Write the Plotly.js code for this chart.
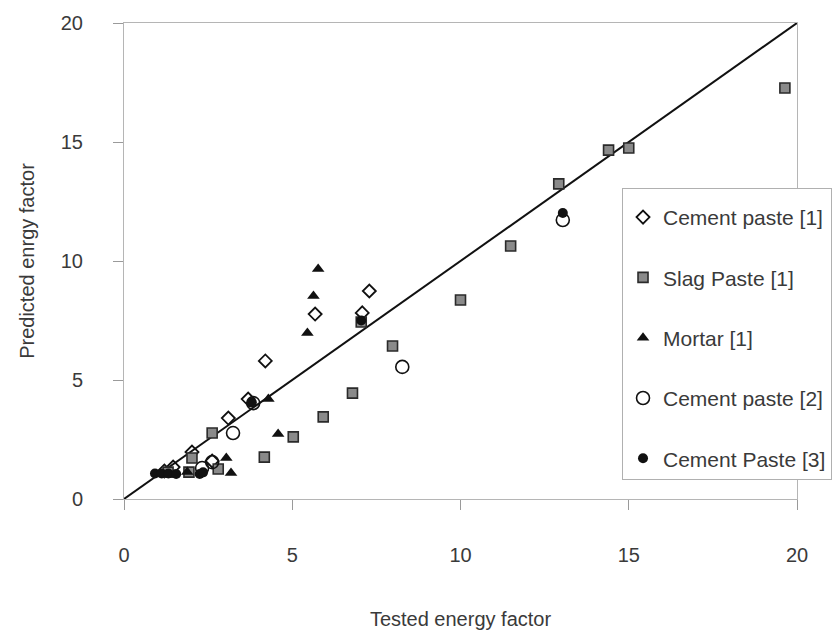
<!DOCTYPE html>
<html>
<head>
<meta charset="utf-8">
<script src="https://cdn.plot.ly/plotly-3.0.1.min.js"></script>
<style>html,body{margin:0;padding:0;background:#fff;}#chart{width:835px;height:638px;}</style>
</head>
<body>
<div id="chart"></div>
<script>
// Cement paste [1] (open diamonds)
const cp1X = [7.29, 5.68, 7.08, 4.20, 3.69, 3.10, 2.02, 2.62, 1.46, 1.20];
const cp1Y = [8.74, 7.77, 7.82, 5.80, 4.20, 3.40, 1.97, 1.60, 1.34, 1.18];
// Slag Paste [1] (grey squares)
const slagX = [19.64, 15.0, 14.4, 12.92, 11.49, 10.0, 7.98, 7.05, 6.79, 5.92, 5.03, 2.62, 4.17, 2.02, 2.80, 1.93, 1.31];
const slagY = [17.27, 14.75, 14.66, 13.24, 10.63, 8.36, 6.43, 7.44, 4.45, 3.45, 2.61, 2.77, 1.76, 1.72, 1.26, 1.13, 1.13];
// Mortar [1] (filled triangles)
const mortarX = [5.77, 5.63, 5.45, 4.29, 4.58, 3.04, 3.18, 1.88];
const mortarY = [9.66, 8.53, 6.97, 4.20, 2.73, 1.72, 1.09, 1.13];
// Cement paste [2] (open circles)
const cp2X = [13.04, 8.27, 3.24, 3.84, 2.32, 2.62];
const cp2Y = [11.72, 5.55, 2.77, 4.03, 1.30, 1.55];
// Cement Paste [3] (filled circles)
const cp3X = [13.04, 3.80, 7.05, 0.92, 1.12, 1.32, 1.55, 2.25, 2.35];
const cp3Y = [12.02, 4.05, 7.50, 1.07, 1.07, 1.07, 1.05, 1.05, 1.12];
// 1:1 line
const lineX = [0, 20];
const lineY = [0, 20];
const tickVals = [0, 5, 10, 15, 20];
const tickText = ['0', '5', '10', '15', '20'];

const traces = [
  {x: lineX, y: lineY, mode: 'lines', line: {color: '#111', width: 2}, showlegend: false, hoverinfo: 'skip'},
  {x: cp1X, y: cp1Y, mode: 'markers', name: 'Cement paste [1]', legendgroup: 'a',
   marker: {symbol: 'diamond-open', size: 10, color: '#111', line: {width: 1.8, color: '#111'}}},
  {x: slagX, y: slagY, mode: 'markers', name: 'Slag Paste [1]', legendgroup: 'b',
   marker: {symbol: 'square', size: 10, color: '#8a8a8a', line: {width: 1.6, color: '#2a2a2a'}}},
  {x: mortarX, y: mortarY, mode: 'markers', name: 'Mortar [1]', legendgroup: 'c',
   marker: {symbol: 'triangle-up', size: 11, color: '#111'}},
  {x: cp2X, y: cp2Y, mode: 'markers', name: 'Cement paste [2]', legendgroup: 'd',
   marker: {symbol: 'circle-open', size: 13, color: '#111', line: {width: 1.6, color: '#111'}}},
  {x: cp3X, y: cp3Y, mode: 'markers', name: 'Cement Paste [3]', legendgroup: 'e',
   marker: {symbol: 'circle', size: 10, color: '#111'}}
];

const axisCommon = {
  range: [0, 20], tickvals: tickVals, ticktext: tickText,
  showgrid: false, zeroline: false,
  showline: true, mirror: true, linecolor: '#b5b5b5', linewidth: 1,
  ticks: 'outside', tickcolor: '#9a9a9a', ticklen: 10, tickwidth: 1,
  tickfont: {family: 'Liberation Sans, Arial, sans-serif', size: 20, color: '#3a3a3a'}
};

const layout = {
  width: 835, height: 638,
  margin: {l: 124, r: 38, t: 23, b: 139, autoexpand: false},
  paper_bgcolor: '#fff', plot_bgcolor: '#fff',
  font: {family: 'Liberation Sans, Arial, sans-serif', color: '#3a3a3a'},
  xaxis: Object.assign({}, axisCommon, {
    ticklabelstandoff: 28,
    title: {text: 'Tested energy factor', font: {size: 20, color: '#3a3a3a'}, standoff: 46}
  }),
  yaxis: Object.assign({}, axisCommon, {
    ticklabelstandoff: 26,
    title: {text: 'Predicted enrgy factor', font: {size: 20, color: '#3a3a3a'}, standoff: 20}
  }),
  legend: {
    x: 0.74, y: 0.653, xanchor: 'left', yanchor: 'top',
    bgcolor: '#fff', bordercolor: '#b0b0b0', borderwidth: 1,
    font: {size: 21, color: '#3a3a3a'},
    title: {text: '\u00a0', font: {size: 6}},
    tracegroupgap: 30, itemwidth: 30
  },
  showlegend: true
};

Plotly.newPlot('chart', traces, layout, {displayModeBar: false, staticPlot: true});
</script>
</body>
</html>
